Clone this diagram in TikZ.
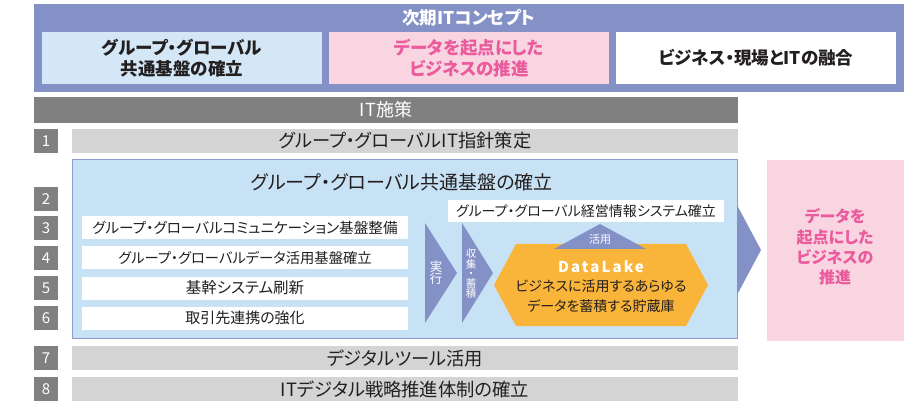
\documentclass[tikz,border=0pt]{standalone}
\usepackage{fontspec}
\setmainfont{Noto Sans CJK JP}[RawFeature={+palt}]
\newfontfamily\dlfont{Noto Sans CJK JP}[LetterSpace=14]
\definecolor{purp}{HTML}{8391C7}
\definecolor{lblue}{HTML}{D3E7F6}
\definecolor{bblue}{HTML}{C8E2F5}
\definecolor{bborder}{HTML}{8E9BD0}
\definecolor{lpink}{HTML}{F9D5E1}
\definecolor{ptext}{HTML}{EA5A9C}
\definecolor{dgray}{HTML}{808080}
\definecolor{lgray}{HTML}{D4D4D4}
\definecolor{orng}{HTML}{F9B43A}
\definecolor{txt}{HTML}{231F20}
\tikzset{
  lbl/.style={inner sep=0pt, align=center, text=txt},
  numbox/.style={fill=dgray, inner sep=0pt, minimum width=24pt, minimum height=24pt, text=white, font=\fontsize{15}{16}\selectfont},
  graybar/.style={fill=lgray, inner sep=0pt, minimum width=666pt, minimum height=24pt, text=txt, font=\fontsize{18.3}{19}\selectfont},
  whitebar/.style={fill=white, inner sep=0pt, minimum width=326pt, minimum height=23pt, text=txt},
  chev/.style={fill=purp},
}
\begin{document}
\begin{tikzpicture}[x=1pt,y=-1pt]
\useasboundingbox (0,0) rectangle (923,403);
% top concept banner
\fill[purp] (34,4) rectangle (904,92);
\node[lbl, text=white, font=\fontsize{17.5}{18}\bfseries] (ttl) at (469,18) {次期ITコンセプト};
\fill[lblue] (42,32) rectangle (322,84);
\fill[lpink] (329,32) rectangle (609,84);
\fill[white] (616,32) rectangle (896,84);
\node[lbl, font=\fontsize{17.5}{21}\bfseries] (c1) at (182,58) {グループ・グローバル\\共通基盤の確立};
\node[lbl, text=ptext, font=\fontsize{17.5}{21}\bfseries] (c2) at (469,58) {データを起点にした\\ビジネスの推進};
\node[lbl, font=\fontsize{17.5}{21}\bfseries] (c3) at (756,58) {ビジネス・現場とITの融合};
% IT policy header
\node[fill=dgray, inner sep=0pt, minimum width=704pt, minimum height=26pt, text=white, font=\fontsize{18}{18}\selectfont] (hdr) at (386,110) {IT施策};
% number boxes
\node[numbox] (n1) at (46,141) {1};
\node[numbox] (n2) at (46,199) {2};
\node[numbox] (n3) at (46,228) {3};
\node[numbox] (n4) at (46,258) {4};
\node[numbox] (n5) at (46,288) {5};
\node[numbox] (n6) at (46,318) {6};
\node[numbox] (n7) at (46,358) {7};
\node[numbox] (n8) at (46,389) {8};
% gray bars
\node[graybar] (b1) at (405,141) {グループ・グローバルIT指針策定};
\node[graybar] (b7) at (405,358) {デジタルツール活用};
\node[graybar] (b8) at (405,389) {ITデジタル戦略推進体制の確立};
% big blue box
\fill[bblue, draw=bborder, line width=1pt] (72,160) rectangle (737,338);
\node[lbl, font=\fontsize{19}{20}\selectfont] (bt) at (402,182) {グループ・グローバル共通基盤の確立};
\node[whitebar, font=\fontsize{14.6}{16}\selectfont] (w3) at (245,228) {グループ・グローバルコミュニケーション基盤整備};
\node[whitebar, font=\fontsize{14.3}{16}\selectfont] (w4) at (245,258) {グループ・グローバルデータ活用基盤確立};
\node[whitebar, font=\fontsize{15.5}{16}\selectfont] (w5) at (245,288) {基幹システム刷新};
\node[whitebar, font=\fontsize{15}{16}\selectfont] (w6) at (245,318) {取引先連携の強化};
\node[fill=white, inner sep=0pt, minimum width=276pt, minimum height=22pt, text=txt, font=\fontsize{14}{16}\selectfont] (mg) at (586,211) {グループ・グローバル経営情報システム確立};
% chevrons
\fill[chev] (425,223) -- (457,273) -- (425,323) -- cycle;
\node[lbl, text=white, font=\fontsize{12.5}{12.5}\selectfont] (jk) at (436,273) {実\\行};
\fill[chev] (462,223) -- (493,273) -- (462,323) -- cycle;
\node[lbl, text=white, font=\fontsize{10.5}{8.8}\selectfont] (sc) at (471,274) {収\\集\\・\\蓄\\積};
% DataLake hexagon
\fill[orng] (494,285) -- (516,244) -- (686,244) -- (708,285) -- (686,326) -- (516,326) -- cycle;
\fill[chev] (600,224) -- (646,249) -- (554,249) -- cycle;
\node[lbl, text=white, font=\fontsize{11}{12}\selectfont] (ky) at (600,239) {活用};
\node[lbl, text=white, font=\fontsize{15}{17}\dlfont\bfseries] (dl) at (601,267) {DataLake};
\node[lbl, font=\fontsize{14}{19.5}\selectfont] (dld) at (601,296) {ビジネスに活用するあらゆる\\データを蓄積する貯蔵庫};
% big arrow
\fill[chev] (737,205) -- (761,250) -- (737,295) -- cycle;
% right pink box
\fill[lpink] (767,160) rectangle (904,341);
\node[lbl, text=ptext, font=\fontsize{16}{20.3}\bfseries] (pr) at (835,247) {データを\\起点にした\\ビジネスの\\推進};
\end{tikzpicture}
\end{document}
